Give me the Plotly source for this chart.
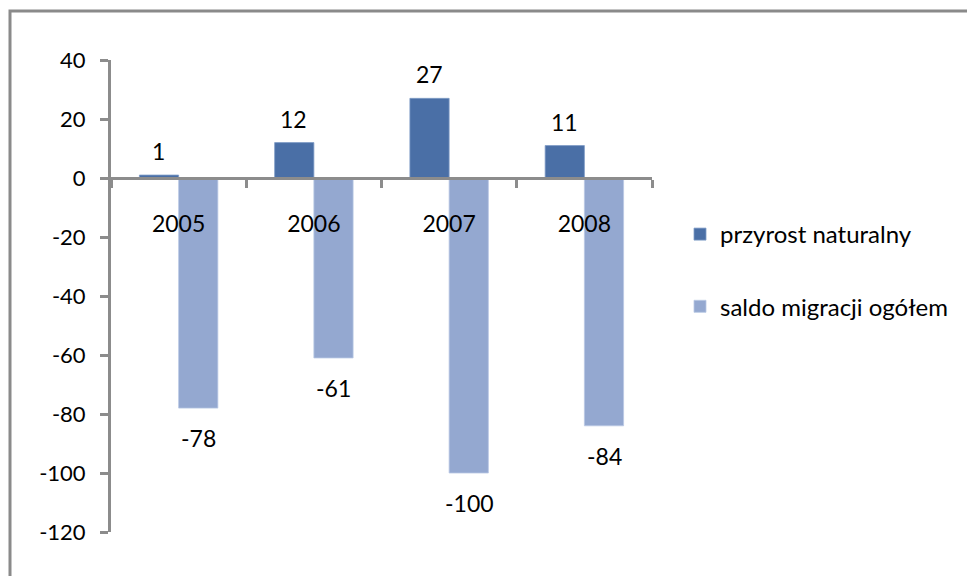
import plotly.graph_objects as go

years = ["2005", "2006", "2007", "2008"]
przyrost = [1, 12, 27, 11]
saldo = [-78, -61, -100, -84]
y_ticks = [40, 20, 0, -20, -40, -60, -80, -100, -120]

FONT = "Lato, Carlito, Calibri, sans-serif"
AXIS_GRAY = "#8c8c8c"
OFF = 8  # page body margin in the browser


def px_x(p):
    return (p - OFF) / 975


def px_y(p):
    return 1 - (p - OFF) / 576


ymin, ymax = -120, 40
ydom = [px_y(532), px_y(60)]
xdom = [px_x(111), px_x(652)]
zero_pos = ydom[0] + (0 - ymin) / (ymax - ymin) * (ydom[1] - ydom[0])

fig = go.Figure()
fig.add_trace(go.Bar(
    x=years, y=przyrost, name="przyrost naturalny",
    marker=dict(color="#4A6FA6", line=dict(color="#7f9cc6", width=0.8)),
    legendgroup="a",
))
fig.add_trace(go.Bar(
    x=years, y=saldo, name="saldo migracji ogółem",
    marker=dict(color="#94A8D0", line=dict(color="#b9c8e4", width=0.8)),
    legendgroup="b",
))

# data labels (x given as category index so it isn't read as the number 2005)
for trace_idx, vals in enumerate([przyrost, saldo]):
    for i, v in enumerate(vals):
        fig.add_annotation(
            x=i, y=v, text=str(v), showarrow=False,
            xshift=-20 if trace_idx == 0 else 20,
            yshift=24 if v >= 0 else -30,
            font=dict(family=FONT, size=23, color="#000000"),
        )

# outer frame (cut off at right and bottom)
fig.add_shape(
    type="rect", xref="paper", yref="paper",
    x0=px_x(10), x1=1.2, y0=-0.2, y1=px_y(11),
    line=dict(color="#8a8a8a", width=3), layer="below",
)

fig.update_layout(
    template="none",
    width=975, height=576,
    margin=dict(l=0, r=0, t=0, b=0, autoexpand=False),
    paper_bgcolor="white", plot_bgcolor="white",
    barmode="group", bargap=0.42, bargroupgap=0,
    font=dict(family=FONT, size=22, color="#000000"),
    showlegend=True,
    legend=dict(
        x=px_x(680), y=px_y(212), xanchor="left", yanchor="top",
        font=dict(family=FONT, size=24, color="#000000"),
        tracegroupgap=38, traceorder="grouped",
        itemwidth=30, bgcolor="rgba(0,0,0,0)", borderwidth=0,
    ),
    xaxis=dict(
        domain=xdom, anchor="free", position=zero_pos,
        type="category", categoryorder="array", categoryarray=years,
        range=[-0.5, len(years) - 0.5], autorange=False, automargin=False,
        showgrid=False, zeroline=False,
        showline=True, linecolor=AXIS_GRAY, linewidth=3,
        ticks="outside", tickson="boundaries", ticklen=8, tickwidth=3, tickcolor=AXIS_GRAY,
        ticklabelstandoff=24, tickangle=0,
        tickfont=dict(family=FONT, size=23, color="#000000"),
    ),
    yaxis=dict(
        domain=ydom, range=[ymin, ymax], autorange=False, automargin=False,
        tickvals=y_ticks, ticktext=[str(t) for t in y_ticks],
        showgrid=False, zeroline=False,
        showline=True, linecolor=AXIS_GRAY, linewidth=3,
        ticks="outside", ticklen=8, tickwidth=3, tickcolor=AXIS_GRAY,
        ticklabelstandoff=10,
        tickfont=dict(family=FONT, size=22, color="#000000"),
    ),
)

fig.write_html("out.html")
